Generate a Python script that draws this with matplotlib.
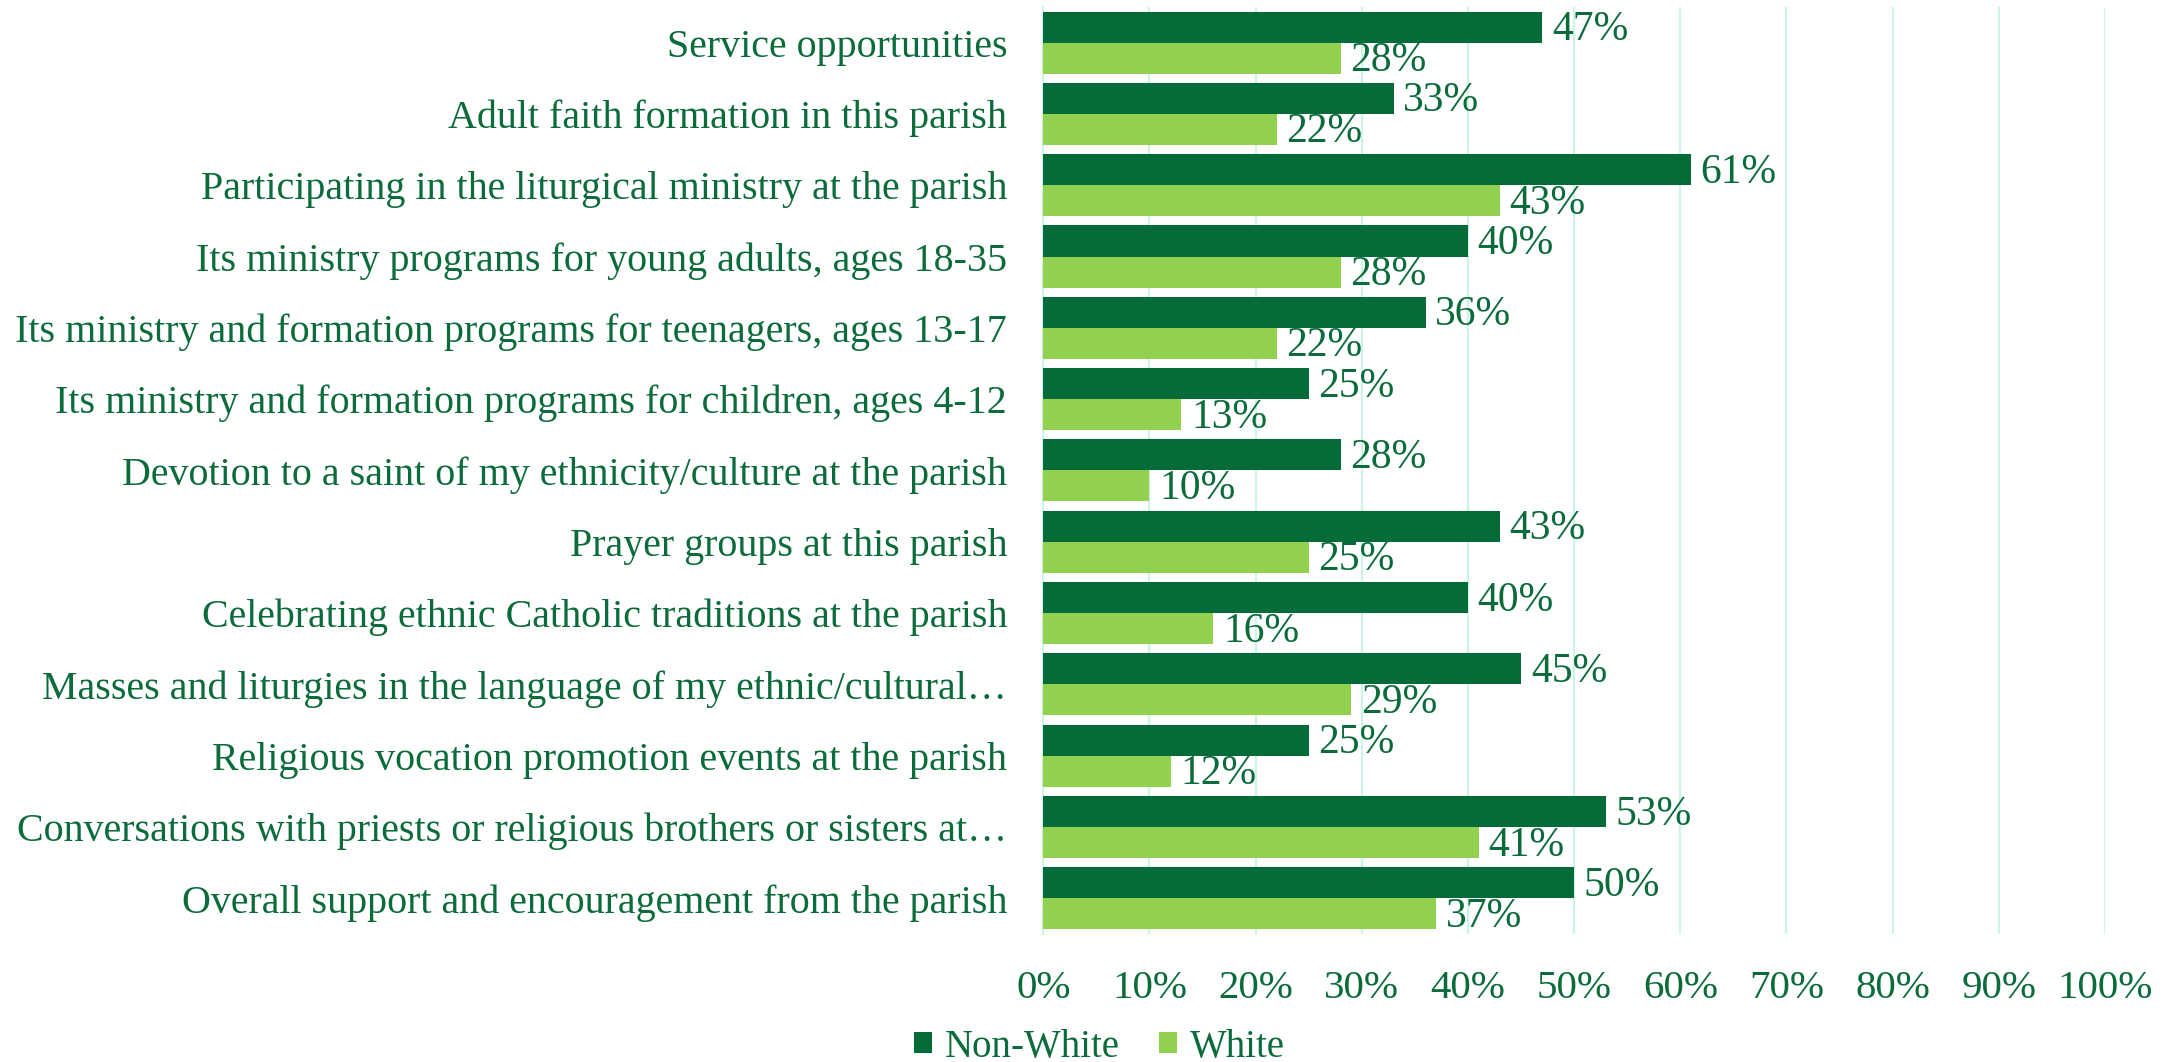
import numpy as np
import matplotlib.pyplot as plt

# Categories, top to bottom as shown
categories = [
    'Service opportunities',
    'Adult faith formation in this parish',
    'Participating in the liturgical ministry at the parish',
    'Its ministry programs for young adults, ages 18-35',
    'Its ministry and formation programs for teenagers, ages 13-17',
    'Its ministry and formation programs for children, ages 4-12',
    'Devotion to a saint of my ethnicity/culture at the parish',
    'Prayer groups at this parish',
    'Celebrating ethnic Catholic traditions at the parish',
    'Masses and liturgies in the language of my ethnic/cultural\u2026',
    'Religious vocation promotion events at the parish',
    'Conversations with priests or religious brothers or sisters at\u2026',
    'Overall support and encouragement from the parish',
]
non_white = [47, 33, 61, 40, 36, 25, 28, 43, 40, 45, 25, 53, 50]
white = [28, 22, 43, 28, 22, 13, 10, 25, 16, 29, 12, 41, 37]
x_ticks = [0, 10, 20, 30, 40, 50, 60, 70, 80, 90, 100]

dark = '#056C39'
light = '#92D050'
txt = '#0B6B3A'
grid = '#CCF5E5'

plt.rcParams['font.family'] = ['Liberation Serif', 'DejaVu Serif']

fig = plt.figure(figsize=(21.69, 10.62), dpi=100)
ax = fig.add_axes([0.481, 0.1205, 0.4895, 0.873])

n = len(categories)
y = np.arange(n)
h = 0.435
b1 = ax.barh(y - h / 2, non_white, height=h, color=dark, label='Non-White', zorder=3)
b2 = ax.barh(y + h / 2, white, height=h, color=light, label='White', zorder=3)

for bars, vals in [(b1, non_white), (b2, white)]:
    for bar, v in zip(bars, vals):
        ax.annotate('%d%%' % v, (bar.get_width(), bar.get_y() + bar.get_height() / 2),
                    xytext=(7, -2), textcoords='offset points', ha='left', va='center',
                    fontsize=30, color=txt)

ax.set_ylim(n - 0.5, -0.5)
ax.set_xlim(0, 100)
ax.set_xticks(x_ticks)
ax.set_xticklabels(['%d%%' % t for t in x_ticks], fontsize=29.5, color=txt)
ax.set_yticks(y)
ax.set_yticklabels(categories, fontsize=28.8, color=txt)
ax.tick_params(axis='both', length=0)
ax.tick_params(axis='x', pad=26)
ax.tick_params(axis='y', pad=26)
ax.xaxis.grid(True, color=grid, linewidth=1.5, zorder=0)
for s in ['top', 'right', 'bottom']:
    ax.spines[s].set_visible(False)
ax.spines['left'].set_color(grid)
ax.spines['left'].set_linewidth(1.5)

fig.legend(loc='center', bbox_to_anchor=(0.507, 0.0141), ncol=2, frameon=False,
           fontsize=28, labelcolor=txt, handlelength=0.45, handleheight=0.45,
           handletextpad=0.35, columnspacing=1.0)

fig.savefig('out.png', dpi=100)
